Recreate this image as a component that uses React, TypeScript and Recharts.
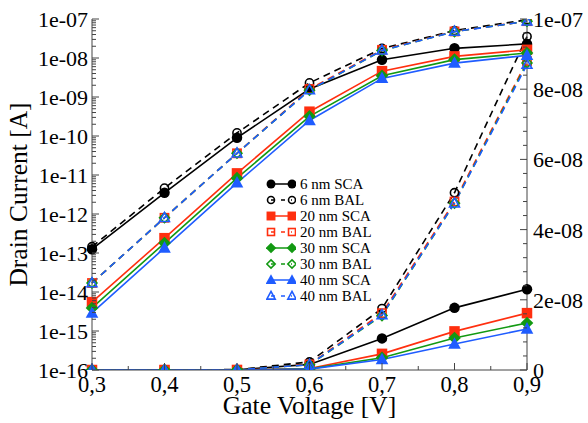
import React from "react";
import { LineChart, Line, XAxis, YAxis, Legend } from "recharts";

const FONT = "Liberation Serif";
const AXIS = "#444";
const BLACK = "#000000";
const RED = "#ff2f0f";
const GREEN = "#129912";
const BLUE = "#1f5cff";

// gate voltage [V]
const VOLTAGES = [0.3, 0.4, 0.5, 0.6, 0.7, 0.8, 0.9];

// drain current [A]
const SCA_6 = [1.25e-13, 3.5e-12, 9e-11, 1.6e-9, 9e-9, 1.77e-8, 2.3e-8];
const BAL_6 = [1.45e-13, 4.6e-12, 1.2e-10, 2.3e-9, 1.75e-8, 5.05e-8, 9.5e-8];
const SCA_20 = [5.5e-15, 2.4e-13, 1.1e-11, 4.2e-10, 4.6e-9, 1.1e-8, 1.62e-8];
const BAL_20 = [1.7e-14, 8e-13, 3.6e-11, 1.6e-9, 1.62e-8, 4.8e-8, 8.8e-8];
const SCA_30 = [3.9e-15, 1.8e-13, 8.3e-12, 3.2e-10, 3.5e-9, 9.1e-9, 1.34e-8];
const BAL_30 = [1.7e-14, 8e-13, 3.6e-11, 1.5e-9, 1.55e-8, 4.75e-8, 8.75e-8];
const SCA_40 = [2.9e-15, 1.35e-13, 6.3e-12, 2.5e-10, 3e-9, 7.4e-9, 1.17e-8];
const BAL_40 = [1.7e-14, 8e-13, 3.6e-11, 1.5e-9, 1.57e-8, 4.75e-8, 8.7e-8];

// axes
const X_MAJOR = [0.3, 0.4, 0.5, 0.6, 0.7, 0.8, 0.9];
const X_LABELS = ["0,3", "0,4", "0,5", "0,6", "0,7", "0,8", "0,9"];
const X_MINOR = [0.35, 0.45, 0.55, 0.65, 0.75, 0.85];

const LOG_MAJOR = [1e-16, 1e-15, 1e-14, 1e-13, 1e-12, 1e-11, 1e-10, 1e-9, 1e-8, 1e-7];
const LOG_LABELS = ["1e-16", "1e-15", "1e-14", "1e-13", "1e-12", "1e-11", "1e-10", "1e-09", "1e-08", "1e-07"];
const LOG_MINOR_MULT = [2, 3, 4, 5, 6, 7, 8, 9];

const LIN_MAJOR = [0, 2e-8, 4e-8, 6e-8, 8e-8, 1e-7];
const LIN_LABELS = ["0", "2e-08", "4e-08", "6e-08", "8e-08", "1e-07"];
const LIN_MINOR = [
  4e-9, 8e-9, 1.2e-8, 1.6e-8, 2.4e-8, 2.8e-8, 3.2e-8, 3.6e-8, 4.4e-8, 4.8e-8,
  5.2e-8, 5.6e-8, 6.4e-8, 6.8e-8, 7.2e-8, 7.6e-8, 8.4e-8, 8.8e-8, 9.2e-8, 9.6e-8,
];

type Shape = "circle" | "square" | "diamond" | "triangle";
interface Series {
  key: string;
  name: string;
  values: number[];
  color: string;
  shape: Shape;
  filled: boolean;
}

const SERIES: Series[] = [
  { key: "sca6", name: "6 nm SCA", values: SCA_6, color: BLACK, shape: "circle", filled: true },
  { key: "bal6", name: "6 nm BAL", values: BAL_6, color: BLACK, shape: "circle", filled: false },
  { key: "sca20", name: "20 nm SCA", values: SCA_20, color: RED, shape: "square", filled: true },
  { key: "bal20", name: "20 nm BAL", values: BAL_20, color: RED, shape: "square", filled: false },
  { key: "sca30", name: "30 nm SCA", values: SCA_30, color: GREEN, shape: "diamond", filled: true },
  { key: "bal30", name: "30 nm BAL", values: BAL_30, color: GREEN, shape: "diamond", filled: false },
  { key: "sca40", name: "40 nm SCA", values: SCA_40, color: BLUE, shape: "triangle", filled: true },
  { key: "bal40", name: "40 nm BAL", values: BAL_40, color: BLUE, shape: "triangle", filled: false },
];

const data = VOLTAGES.map((v, i) => {
  const row: Record<string, number> = { v };
  SERIES.forEach((s) => (row[s.key] = s.values[i]));
  return row;
});

const LOG_TICKS = [
  ...LOG_MAJOR,
  ...LOG_MAJOR.slice(0, -1).flatMap((d) => LOG_MINOR_MULT.map((m) => m * d)),
];

// relative compare, log ticks span many decades
const near = (a: number, b: number) => a === b || Math.abs(a - b) <= Math.abs(b) * 1e-6;

function Marker({ cx, cy, shape, color, filled, k = 1 }: any) {
  if (cx == null || cy == null) return <g />;
  const fill = filled ? color : "none";
  const sw = filled ? 0 : 1.6;
  const s = (filled ? 1.05 : 0.82) * k;
  if (shape === "circle")
    return <circle cx={cx} cy={cy} r={5 * s} fill={fill} stroke={color} strokeWidth={sw} />;
  if (shape === "square")
    return <rect x={cx - 5 * s} y={cy - 5 * s} width={10 * s} height={10 * s} fill={fill} stroke={color} strokeWidth={sw} />;
  if (shape === "diamond")
    return (
      <polygon
        points={`${cx},${cy - 6 * s} ${cx + 6 * s},${cy} ${cx},${cy + 6 * s} ${cx - 6 * s},${cy}`}
        fill={fill}
        stroke={color}
        strokeWidth={sw}
      />
    );
  return (
    <polygon
      points={`${cx},${cy - 6.5 * s} ${cx + 6 * s},${cy + 4.5 * s} ${cx - 6 * s},${cy + 4.5 * s}`}
      fill={fill}
      stroke={color}
      strokeWidth={sw}
    />
  );
}

function BottomTick({ x, y, payload }: any) {
  const i = X_MAJOR.findIndex((m) => near(payload.value, m));
  const major = i >= 0;
  return (
    <g>
      <line x1={x} x2={x} y1={y} y2={y - (major ? 7 : 4)} stroke={AXIS} />
      {major && (
        <text x={x} y={y + 22} textAnchor="middle" fontSize={22.5} fontFamily={FONT} fill="#000">
          {X_LABELS[i]}
        </text>
      )}
    </g>
  );
}

function TopTick({ x, y, payload }: any) {
  const major = X_MAJOR.some((m) => near(payload.value, m));
  return <line x1={x} x2={x} y1={y} y2={y + (major ? 7 : 4)} stroke={AXIS} />;
}

function LeftTick({ x, y, payload }: any) {
  const i = LOG_MAJOR.findIndex((m) => near(payload.value, m));
  const major = i >= 0;
  return (
    <g>
      <line x1={x} x2={x + (major ? 7 : 4)} y1={y} y2={y} stroke={AXIS} />
      {major && (
        <text x={x - 4} y={y + 8} textAnchor="end" fontSize={22} fontFamily={FONT} fill="#000">
          {LOG_LABELS[i]}
        </text>
      )}
    </g>
  );
}

function RightTick({ x, y, payload }: any) {
  const i = LIN_MAJOR.findIndex((m) => near(payload.value, m));
  const major = i >= 0;
  return (
    <g>
      <line x1={x} x2={x - (major ? 7 : 4)} y1={y} y2={y} stroke={AXIS} />
      {major && (
        <text x={x + 6} y={y + 8} textAnchor="start" fontSize={22} fontFamily={FONT} fill="#000">
          {LIN_LABELS[i]}
        </text>
      )}
    </g>
  );
}

function LegendBox() {
  return (
    <div style={{ fontFamily: FONT, fontSize: 15, color: "#000" }}>
      {SERIES.map((s) => (
        <div key={s.key} style={{ display: "flex", alignItems: "center", height: 16 }}>
          <svg width={30} height={16} style={{ marginRight: 4 }}>
            <line
              x1={5}
              x2={26}
              y1={8}
              y2={8}
              stroke={s.color}
              strokeWidth={1.5}
              strokeDasharray={s.filled ? undefined : "4 6"}
            />
            <Marker cx={5} cy={8} shape={s.shape} color={s.color} filled={s.filled} k={0.85} />
            <Marker cx={26} cy={8} shape={s.shape} color={s.color} filled={s.filled} k={0.85} />
          </svg>
          <span style={{ lineHeight: "16px" }}>{s.name}</span>
        </div>
      ))}
    </div>
  );
}

export default function App() {
  const lines: React.ReactNode[] = [];
  SERIES.forEach((s) => {
    ["log", "lin"].forEach((axis) => {
      lines.push(
        <Line
          key={`${s.key}-${axis}`}
          yAxisId={axis}
          dataKey={s.key}
          name={`${s.name} ${axis}`}
          type="linear"
          stroke={s.color}
          strokeWidth={1.6}
          strokeDasharray={s.filled ? undefined : "7 5"}
          dot={(p: any) => (
            <Marker
              key={`${s.key}-${axis}-${p.index}`}
              cx={p.cx}
              cy={p.cy}
              shape={s.shape}
              color={s.color}
              filled={s.filled}
            />
          )}
          activeDot={false}
          legendType="none"
          isAnimationActive={false}
        />
      );
    });
  });

  return (
    <div style={{ position: "absolute", left: 0, top: 0, background: "#fff" }}>
      <LineChart width={588} height={423} data={data} margin={{ top: 19, right: 0, bottom: 0, left: 0 }}>
        <XAxis
          dataKey="v"
          type="number"
          domain={[0.3, 0.9]}
          ticks={[...X_MAJOR, ...X_MINOR]}
          interval={0}
          tickSize={0}
          tickMargin={0}
          tickLine={false}
          axisLine={{ stroke: AXIS }}
          tick={BottomTick}
          height={53}
          label={{
            content: ({ viewBox }: any) => (
              <text
                x={viewBox.x + viewBox.width / 2}
                y={viewBox.y + 44}
                textAnchor="middle"
                fontSize={25.5}
                fontFamily={FONT}
                fill="#000"
              >
                Gate Voltage [V]
              </text>
            ),
          }}
        />
        <XAxis
          xAxisId="top"
          dataKey="v"
          orientation="top"
          type="number"
          domain={[0.3, 0.9]}
          ticks={[...X_MAJOR, ...X_MINOR]}
          interval={0}
          tickSize={0}
          tickMargin={0}
          tickLine={false}
          axisLine={{ stroke: AXIS }}
          tick={TopTick}
          height={0}
        />
        <YAxis
          yAxisId="log"
          type="number"
          scale="log"
          domain={[1e-16, 1e-7]}
          allowDataOverflow
          ticks={LOG_TICKS}
          interval={0}
          tickSize={0}
          tickMargin={0}
          tickLine={false}
          axisLine={{ stroke: AXIS }}
          tick={LeftTick}
          width={92}
          label={{
            content: ({ viewBox }: any) => (
              <text
                transform={`translate(27, ${viewBox.y + viewBox.height / 2}) rotate(-90)`}
                textAnchor="middle"
                fontSize={25.5}
                fontFamily={FONT}
                fill="#000"
              >
                Drain Current [A]
              </text>
            ),
          }}
        />
        <YAxis
          yAxisId="lin"
          orientation="right"
          type="number"
          domain={[0, 1e-7]}
          allowDataOverflow
          ticks={[...LIN_MAJOR, ...LIN_MINOR]}
          interval={0}
          tickSize={0}
          tickMargin={0}
          tickLine={false}
          axisLine={{ stroke: AXIS }}
          tick={RightTick}
          width={61}
        />
        <Legend
          layout="horizontal"
          verticalAlign="middle"
          align="center"
          wrapperStyle={{ left: 266, top: 176, width: 130 }}
          content={() => <LegendBox />}
        />
        {lines}
      </LineChart>
    </div>
  );
}
